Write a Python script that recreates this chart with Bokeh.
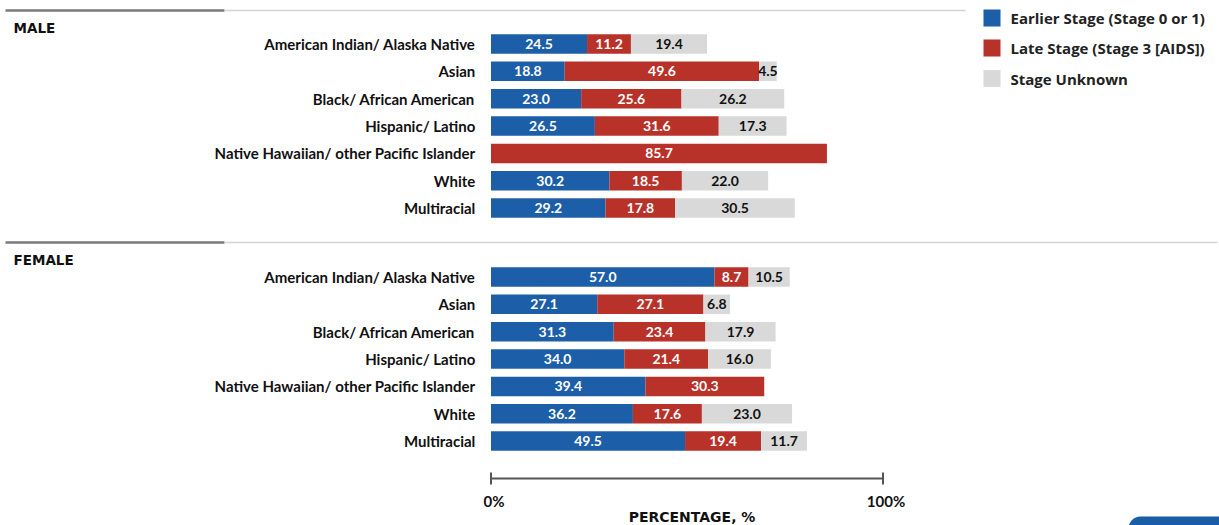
from bokeh.plotting import figure
from bokeh.models import Range1d, ColumnDataSource
from bokeh.core.properties import value
from bokeh.embed import file_html
from bokeh.resources import INLINE

# ---- data -------------------------------------------------------------
groups = [
    "American Indian/ Alaska Native",
    "Asian",
    "Black/ African American",
    "Hispanic/ Latino",
    "Native Hawaiian/ other Pacific Islander",
    "White",
    "Multiracial",
]

male_early = [24.5, 18.8, 23.0, 26.5, 0.0, 30.2, 29.2]
male_late = [11.2, 49.6, 25.6, 31.6, 85.7, 18.5, 17.8]
male_unknown = [19.4, 4.5, 26.2, 17.3, 0.0, 22.0, 30.5]

female_early = [57.0, 27.1, 31.3, 34.0, 39.4, 36.2, 49.5]
female_late = [8.7, 27.1, 23.4, 21.4, 30.3, 17.6, 19.4]
female_unknown = [10.5, 6.8, 17.9, 16.0, 0.0, 23.0, 11.7]

stage_labels = [
    "Earlier Stage (Stage 0 or 1)",
    "Late Stage (Stage 3 [AIDS])",
    "Stage Unknown",
]
axis_ticks = [0, 100]
axis_tick_labels = ["0%", "100%"]
axis_title = "PERCENTAGE, %"

# ---- styling ----------------------------------------------------------
BLUE = "#1c5ea8"
RED = "#b9322a"
GREY = "#d9d9d9"
COLORS = [BLUE, RED, GREY]
TEXT_COLORS = ["white", "white", "#111111"]
LABEL_FONT = value("Lato")
CAPS_FONT = value("DejaVu Sans")
LEGEND_FONT = value("Open Sans")

W, H = 1219, 525
PX_PER_PCT = 3.92
X0_PX = 490.5
x_start = -X0_PX / PX_PER_PCT
x_end = x_start + W / PX_PER_PCT

p = figure(
    width=W, height=H, output_backend="svg", toolbar_location=None,
    x_range=Range1d(x_start, x_end), y_range=Range1d(H, 0),
    min_border=0, outline_line_color=None,
)
p.axis.visible = False
p.grid.visible = False
p.background_fill_color = "white"
p.border_fill_color = "white"

ROW_STEP = 27.35
BAR_H = 19.5
LABEL_X = -4.0  # percent units, right edge of category labels


def pct_px(px):
    """Convert a horizontal pixel offset into percent units."""
    return px / PX_PER_PCT


def draw_panel(title, header_y, first_row_y, line_end_px, early, late, unknown):
    # header rule: dark lead-in, light remainder
    p.segment(x0=[pct_px(5 - X0_PX)], y0=[header_y], x1=[pct_px(224 - X0_PX)],
              y1=[header_y], line_color="#7a7a7a", line_width=2.5)
    p.segment(x0=[pct_px(224 - X0_PX)], y0=[header_y], x1=[pct_px(line_end_px - X0_PX)],
              y1=[header_y], line_color="#d4d4d4", line_width=1.5)
    p.text(x=[pct_px(13 - X0_PX)], y=[header_y + 17], text=[title],
           text_font=CAPS_FONT, text_font_style="bold", text_font_size="13.5px",
           text_color="#111111", text_align="left", text_baseline="middle")

    ys = [first_row_y + i * ROW_STEP for i in range(len(groups))]
    p.text(x=[LABEL_X] * len(groups), y=ys, text=groups,
           text_font=LABEL_FONT, text_font_style="bold", text_font_size="15px",
           text_color="#111111", text_align="right", text_baseline="middle")

    series = [early, late, unknown]
    left = [0.0] * len(groups)
    for k, vals in enumerate(series):
        right = [l + v for l, v in zip(left, vals)]
        src = ColumnDataSource(dict(
            y=ys, left=left, right=right,
            mid=[(l + r) / 2 for l, r in zip(left, right)],
            lab=[f"{v:.1f}" if v > 0 else "" for v in vals],
        ))
        p.hbar(y="y", left="left", right="right", height=BAR_H, source=src,
               fill_color=COLORS[k], line_color=None)
        p.text(x="mid", y="y", text="lab", source=src,
               text_font=LABEL_FONT, text_font_style="bold", text_font_size="14px",
               text_color=TEXT_COLORS[k], text_align="center", text_baseline="middle")
        left = right


draw_panel("MALE", 10, 43.5, 965, male_early, male_late, male_unknown)
draw_panel("FEMALE", 242, 276.5, 1217, female_early, female_late, female_unknown)

# ---- legend -----------------------------------------------------------
leg_ys = [17.5, 47.5, 78]
leg_x = pct_px(991.5 - X0_PX)
p.rect(x=[leg_x] * 3, y=leg_ys, width=pct_px(17), height=17,
       fill_color=COLORS, line_color=None)
p.text(x=[pct_px(1010 - X0_PX)] * 3, y=leg_ys, text=stage_labels,
       text_font=LEGEND_FONT, text_font_style="bold", text_font_size="15px",
       text_color="#222222", text_align="left", text_baseline="middle")

# ---- percentage axis --------------------------------------------------
AXIS_Y = 478
p.segment(x0=[axis_ticks[0]], y0=[AXIS_Y], x1=[axis_ticks[-1]], y1=[AXIS_Y],
          line_color="#555555", line_width=2)
p.segment(x0=axis_ticks, y0=[AXIS_Y - 6] * 2, x1=axis_ticks, y1=[AXIS_Y + 6] * 2,
          line_color="#555555", line_width=2)
p.text(x=[t + pct_px(3) for t in axis_ticks], y=[AXIS_Y + 22] * 2, text=axis_tick_labels,
       text_font=LABEL_FONT, text_font_style="bold", text_font_size="15px",
       text_color="#111111", text_align="center", text_baseline="middle")
p.text(x=[(axis_ticks[0] + axis_ticks[-1]) / 2 + pct_px(5)], y=[AXIS_Y + 38], text=[axis_title],
       text_font=CAPS_FONT, text_font_style="bold", text_font_size="14px",
       text_color="#111111", text_align="center", text_baseline="middle")

# page corner tab
p.quad(left=[pct_px(1128 - X0_PX)], right=[pct_px(1240 - X0_PX)], top=[516], bottom=[545],
       fill_color="#1a5ca6", line_color=None, border_radius=12)

open("out.html", "w").write(file_html(p, INLINE))
